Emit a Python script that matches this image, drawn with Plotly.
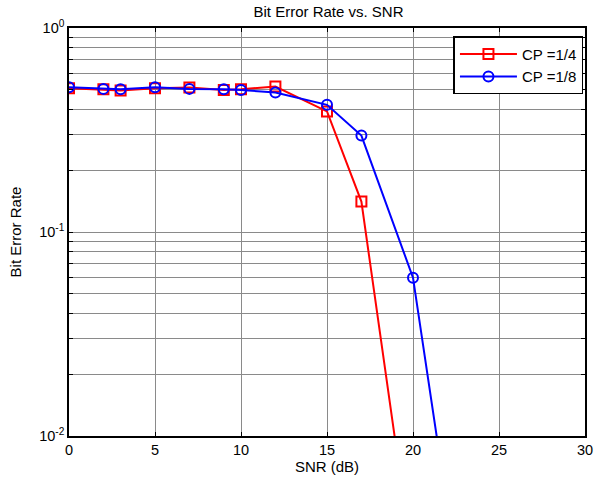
import numpy as np
import plotly.graph_objects as go

snr_cp4 = [0, 2, 3, 5, 7, 9, 10, 12, 15, 17, 20]
ber_cp4 = [0.507, 0.501, 0.494, 0.507, 0.511, 0.497, 0.501, 0.516, 0.39, 0.141, 0.0023]
snr_cp8 = [0, 2, 3, 5, 7, 9, 10, 12, 15, 17, 20, 25]
ber_cp8 = [0.513, 0.503, 0.501, 0.513, 0.503, 0.501, 0.497, 0.483, 0.42, 0.297, 0.0597, 0.00009]

x_ticks = [0, 5, 10, 15, 20, 25, 30]
y_major = [1e-2, 1e-1, 1e0]
y_major_text = ["10<sup>-2</sup>", "10<sup>-1</sup>", "10<sup>0</sup>"]

yvals, ytext = [], []
for d in (-2, -1):
    for m in range(1, 10):
        yvals.append(m * 10.0 ** d)
        ytext.append(y_major_text[d + 2] if m == 1 else "")
yvals.append(1.0)
ytext.append(y_major_text[2])

FONT = "Liberation Sans, Arial, sans-serif"

fig = go.Figure()
fig.add_trace(go.Scatter(
    x=snr_cp4, y=ber_cp4, mode="lines+markers", name="CP =1/4",
    line=dict(color="#ff0000", width=2),
    marker=dict(symbol="square-open", size=10, color="#ff0000", line=dict(width=2)),
))
fig.add_trace(go.Scatter(
    x=snr_cp8, y=ber_cp8, mode="lines+markers", name="CP =1/8",
    line=dict(color="#0000ff", width=2),
    marker=dict(symbol="circle-open", size=10, color="#0000ff", line=dict(width=2)),
))

axis_common = dict(
    showline=True, linecolor="black", linewidth=1.5, mirror="allticks",
    ticks="inside", ticklen=4, tickcolor="black",
    gridcolor="#8a8a8a", gridwidth=1, zeroline=False,
    tickfont=dict(family=FONT, size=14.5, color="black"),
)

fig.update_layout(
    width=605, height=483,
    margin=dict(l=69, r=17, t=28, b=46),
    paper_bgcolor="white", plot_bgcolor="white",
    title=dict(text="Bit Error Rate vs. SNR", x=(69 + 588) / 2 / 605, xanchor="center",
               y=1 - 11.5 / 483, yanchor="middle",
               font=dict(family=FONT, size=15, color="black")),
    xaxis=dict(range=[0, 30], tickvals=x_ticks, ticktext=[str(v) for v in x_ticks],
               title=dict(text="SNR (dB)", standoff=2,
                          font=dict(family=FONT, size=15, color="black")),
               **axis_common),
    yaxis=dict(type="log", range=[-2, 0], tickvals=yvals, ticktext=ytext,
               title=dict(text="Bit Error Rate", standoff=14,
                          font=dict(family=FONT, size=15, color="black")),
               **axis_common),
    legend=dict(x=0.997, y=0.98, xanchor="right", yanchor="top",
                bgcolor="white", bordercolor="black", borderwidth=1.5,
                font=dict(family=FONT, size=15, color="black"),
                itemwidth=57, tracegroupgap=0),
    showlegend=True,
)

fig.write_html("out.html")
